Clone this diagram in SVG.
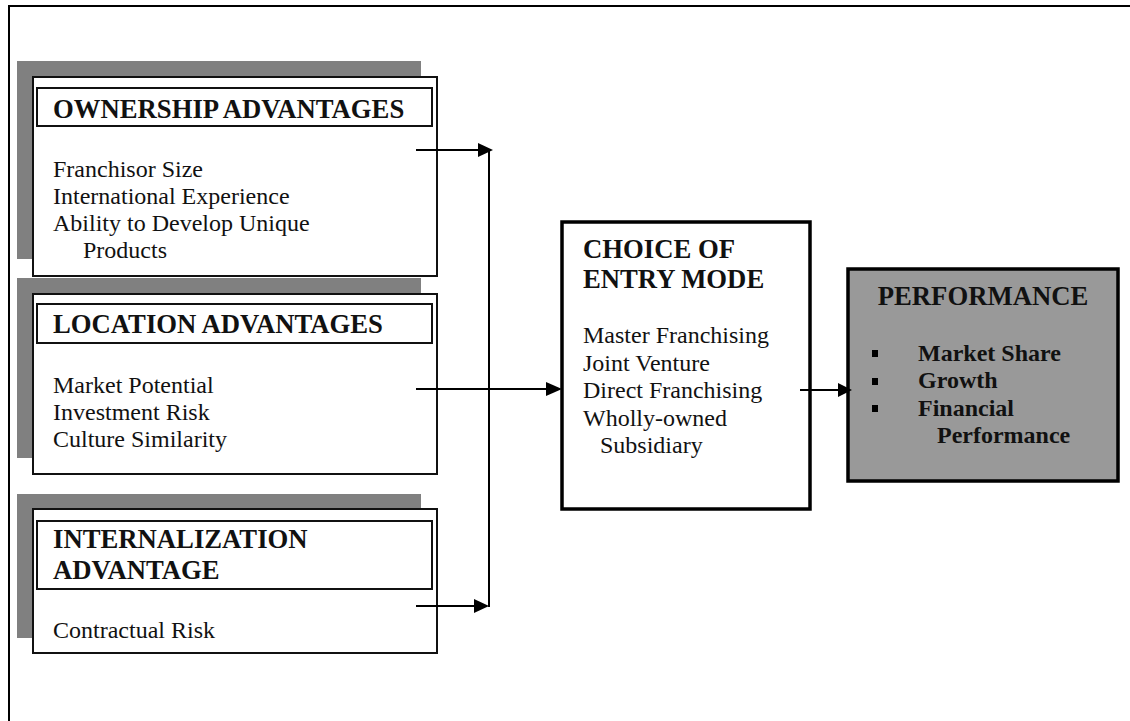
<svg xmlns="http://www.w3.org/2000/svg" width="1130" height="721" viewBox="0 0 1130 721">
<style>
.shadow{fill:#808080;stroke:none}
.box{fill:#fff;stroke:#111;stroke-width:2}
.tbox{fill:none;stroke:#111;stroke-width:2}
.thick{fill:#fff;stroke:#000;stroke-width:3.5}
.perf{fill:#999;stroke:#000;stroke-width:3.5}
.title{font-family:"Liberation Serif","Times New Roman",serif;font-weight:bold;font-size:26.7px;fill:#111}
.body{font-family:"Liberation Serif","Times New Roman",serif;font-size:24px;fill:#111}
.bbody{font-family:"Liberation Serif","Times New Roman",serif;font-size:24px;font-weight:bold;fill:#111}
.ln{stroke:#000;stroke-width:2;fill:none}
.ah{fill:#000}
</style>
<rect width="1130" height="721" fill="#fff"/>
<g id="frame">
<line x1="8" y1="6" x2="1130" y2="6" class="ln"/>
<line x1="9" y1="5" x2="9" y2="721" class="ln"/>
</g>
<g id="ownership">
<rect class="shadow" x="17" y="61" width="404" height="198"/>
<rect class="box" x="33" y="77" width="404" height="199"/>
<rect class="tbox" x="37" y="88" width="395" height="38"/>
<text class="title" x="53" y="118">OWNERSHIP ADVANTAGES</text>
<text class="body" x="53" y="177">Franchisor Size</text>
<text class="body" x="53" y="204">International Experience</text>
<text class="body" x="53" y="231">Ability to Develop Unique</text>
<text class="body" x="83" y="258">Products</text>
</g>
<g id="location">
<rect class="shadow" x="17" y="278" width="404" height="180"/>
<rect class="box" x="33" y="294" width="404" height="180"/>
<rect class="tbox" x="37" y="304" width="395" height="39"/>
<text class="title" x="53" y="333">LOCATION ADVANTAGES</text>
<text class="body" x="53" y="393">Market Potential</text>
<text class="body" x="53" y="420">Investment Risk</text>
<text class="body" x="53" y="447">Culture Similarity</text>
</g>
<g id="internalization">
<rect class="shadow" x="17" y="494" width="404" height="144"/>
<rect class="box" x="33" y="509" width="404" height="144"/>
<rect class="tbox" x="37" y="521" width="395" height="68"/>
<text class="title" x="53" y="548">INTERNALIZATION</text>
<text class="title" x="53" y="579">ADVANTAGE</text>
<text class="body" x="53" y="638">Contractual Risk</text>
</g>
<g id="choice">
<rect class="thick" x="562" y="222" width="248" height="287"/>
<text class="title" x="583" y="258">CHOICE OF</text>
<text class="title" x="583" y="288">ENTRY MODE</text>
<text class="body" x="583" y="343">Master Franchising</text>
<text class="body" x="583" y="371">Joint Venture</text>
<text class="body" x="583" y="398">Direct Franchising</text>
<text class="body" x="583" y="426">Wholly-owned</text>
<text class="body" x="600" y="453">Subsidiary</text>
</g>
<g id="performance">
<rect class="perf" x="848" y="269" width="270" height="212"/>
<text class="title" x="983" y="305" text-anchor="middle">PERFORMANCE</text>
<rect x="872" y="350" width="6" height="7" fill="#000"/>
<rect x="872" y="378" width="6" height="7" fill="#000"/>
<rect x="872" y="405" width="6" height="7" fill="#000"/>
<text class="bbody" x="918" y="361">Market Share</text>
<text class="bbody" x="918" y="388">Growth</text>
<text class="bbody" x="918" y="416">Financial</text>
<text class="bbody" x="937" y="443">Performance</text>
</g>
<g id="connectors">
<line class="ln" x1="416" y1="150" x2="479" y2="150"/>
<polygon class="ah" points="478,143 493,150 478,157"/>
<line class="ln" x1="489" y1="150" x2="489" y2="607"/>
<line class="ln" x1="416" y1="389" x2="547" y2="389"/>
<polygon class="ah" points="546,382 562,389 546,396"/>
<line class="ln" x1="416" y1="606" x2="475" y2="606"/>
<polygon class="ah" points="474,599 489,606 474,613"/>
<line class="ln" x1="800" y1="390" x2="839" y2="390"/>
<polygon class="ah" points="838,383 852,390 838,397"/>
</g>
</svg>
